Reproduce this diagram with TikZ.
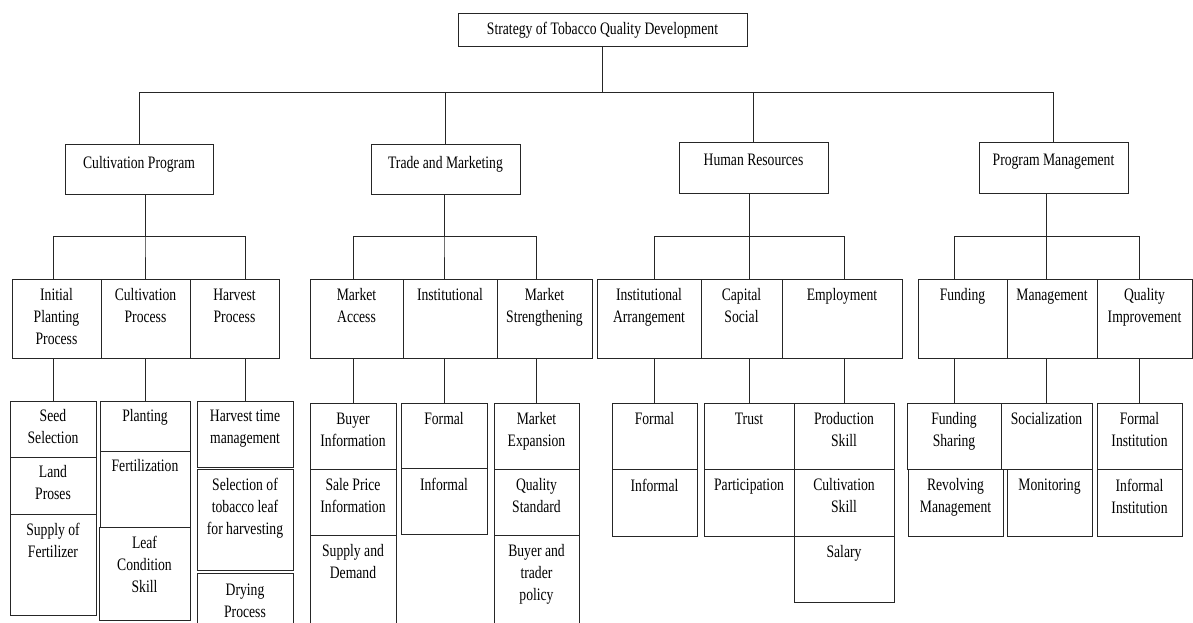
\documentclass[tikz,border=0pt]{standalone}
\usepackage{fontspec}
\setmainfont{Liberation Serif}[FakeStretch=0.78]
\usetikzlibrary{fit}

\tikzset{
  cell/.style={draw=black!85, line width=0.9pt, inner sep=0pt},
  celltext/.style={anchor=north, align=center, inner sep=0pt, font=\fontsize{17.5}{22}\selectfont},
  link/.style={draw=black!85, line width=0.9pt}
}

% box from (x1,y1) to (x2,y2), text hung from the top
\newcommand{\cellbox}[7][10]{%
  \node[cell, fit={(#3,#4) (#5,#6)}] (#2) {};
  \node[celltext] (#2-t) at ([yshift=-#1pt]#2.north) {#7};
}

\begin{document}
\begin{tikzpicture}[x=1pt,y=-1pt]
\useasboundingbox (0,0) rectangle (1193,623);
\clip (0,0) rectangle (1193,623);

% top
\cellbox[9]{root}{458}{13}{747}{46}{Strategy of Tobacco Quality Development}

% first level
\cellbox[13]{cp}{65}{144}{213}{194}{Cultivation Program}
\cellbox[13]{tm}{371}{144}{520}{194}{Trade and Marketing}
\cellbox[12]{hr}{679}{142}{828}{193}{Human Resources}
\cellbox[12]{pm}{979}{142}{1128}{193}{Program Management}

% second level
\cellbox{ipp}{12}{279}{101}{358}{Initial\\Planting\\Process}
\cellbox{cvp}{101}{279}{190}{358}{Cultivation\\Process}
\cellbox{hvp}{190}{279}{279}{358}{Harvest\\Process}

\cellbox{mac}{310}{279}{403}{358}{Market\\Access}
\cellbox{ins}{403}{279}{497}{358}{Institutional}
\cellbox{mst}{497}{279}{592}{358}{Market\\Strengthening}

\cellbox{iar}{597}{279}{701}{358}{Institutional\\Arrangement}
\cellbox{csc}{701}{279}{782}{358}{Capital\\Social}
\cellbox{emp}{782}{279}{902}{358}{Employment}

\cellbox{fun}{918}{279}{1007}{358}{Funding}
\cellbox{mgt}{1007}{279}{1097}{358}{Management}
\cellbox{qim}{1097}{279}{1192}{358}{Quality\\Improvement}

% third level, cultivation
\cellbox[9]{ss}{10}{401}{96}{457}{Seed\\Selection}
\cellbox[9]{lp}{10}{457}{96}{514}{Land\\Proses}
\cellbox[9]{sf}{10}{514}{96}{615}{Supply of\\Fertilizer}
\cellbox[9]{pl}{100}{401}{190}{451}{Planting}
\cellbox[9]{fe}{100}{451}{190}{527}{Fertilization}
\cellbox[9]{lc}{99}{527}{190}{620}{Leaf\\Condition\\Skill}
\cellbox[9]{ht}{197}{401}{293}{467}{Harvest time\\management}
\cellbox[9]{sl}{197}{469}{293}{570}{Selection of\\tobacco leaf\\for harvesting}
\cellbox[11]{dp}{197}{573}{293}{640}{Drying\\Process}

% third level, trade
\cellbox{bi}{310}{403}{396}{469}{Buyer\\Information}
\cellbox{sp}{310}{469}{396}{535}{Sale Price\\Information}
\cellbox{sd}{310}{535}{396}{640}{Supply and\\Demand}
\cellbox{fo}{401}{403}{487}{468}{Formal}
\cellbox{inf}{401}{468}{487}{534}{Informal}
\cellbox{me}{494}{403}{579}{469}{Market\\Expansion}
\cellbox{qs}{494}{469}{579}{535}{Quality\\Standard}
\cellbox{bt}{494}{535}{579}{640}{Buyer and\\trader\\policy}

% third level, human resources
\cellbox{fo2}{612}{403}{697}{469}{Formal}
\cellbox{inf2}{612}{469}{697}{536}{Informal}
\cellbox{tr}{704}{403}{794}{469}{Trust}
\cellbox{pa}{704}{469}{794}{536}{Participation}
\cellbox{ps}{794}{403}{894}{469}{Production\\Skill}
\cellbox{cs}{794}{469}{894}{536}{Cultivation\\Skill}
\cellbox{sa}{794}{536}{894}{602}{Salary}

% third level, program management
\cellbox{fs}{907}{403}{1001}{469}{Funding\\Sharing}
\cellbox{rm}{908}{469}{1003}{536}{Revolving\\Management}
\cellbox{so}{1001}{403}{1092}{469}{Socialization}
\cellbox{mo}{1007}{469}{1092}{536}{Monitoring}
\cellbox{fi}{1097}{403}{1182}{469}{Formal\\Institution}
\cellbox{ii}{1097}{469}{1182}{536}{Informal\\Institution}

% connectors
\coordinate (b0) at (0,92);
\coordinate (b1) at (0,236);
\foreach \c in {cp,tm,hr,pm}
  \draw[link] (root.south) -- (root.south |- b0) -| (\c.north);
\foreach \p/\m/\q/\r in {cp/pl/ipp/ss, cp/pl/cvp/pl, cp/pl/hvp/ht,
    tm/fo/mac/bi, tm/fo/ins/fo, tm/fo/mst/me,
    hr/tr/iar/fo2, hr/tr/csc/tr, hr/tr/emp/ps,
    pm/so/fun/fs, pm/so/mgt/so, pm/so/qim/fi}
{
  \draw[link] (\p.south -| \m.north) -- (\m.north |- b1) -| (\q.north -| \r.north);
  \draw[link] (\q.south -| \r.north) -- (\r.north);
}
\end{tikzpicture}
\end{document}
